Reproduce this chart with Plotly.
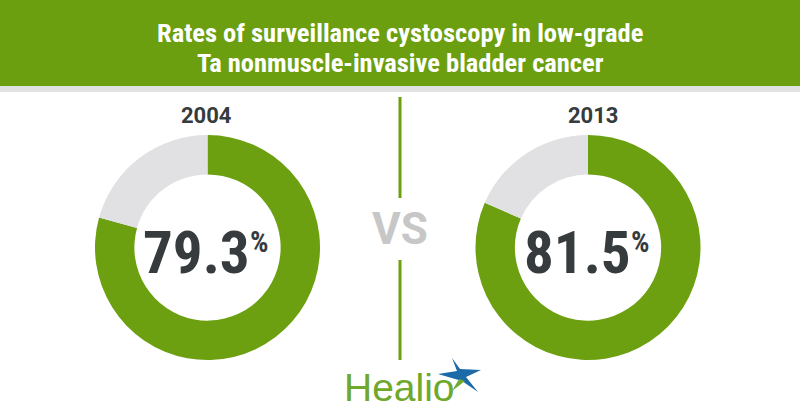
import plotly.graph_objects as go

# ---- data ----
years = ["2004", "2013"]
rates = [79.3, 81.5]          # % surveillance cystoscopy
title_lines = ["Rates of surveillance cystoscopy in low-grade",
               "Ta nonmuscle-invasive bladder cancer"]

W, H = 800, 420
GREEN = "#6ca011"
GRAY = "#e1e1e3"
DARK = "#363b3e"
COND = "Liberation Sans Narrow, Roboto Condensed, DejaVu Sans Condensed, Roboto"
REG = "Roboto, Liberation Sans, Arial"


def px(x):
    return x / W


def py(y):
    return 1 - y / H


fig = go.Figure()

# donut geometry (pixels): centres and outer radius
centres = [207.5, 588]
cy, R = 247.5, 112.5
for i, (yr, r) in enumerate(zip(years, rates)):
    cx = centres[i]
    fig.add_trace(go.Pie(
        values=[r, 100 - r],
        labels=["yes", "no"],
        marker=dict(colors=[GREEN, GRAY], line=dict(width=0)),
        hole=0.65, sort=False, direction="clockwise", rotation=0,
        textinfo="none", hoverinfo="skip", showlegend=False,
        domain=dict(x=[px(cx - R), px(cx + R)], y=[py(cy + R), py(cy - R)]),
    ))

shapes = []
# header band
shapes.append(dict(type="rect", xref="paper", yref="paper", x0=0, x1=1,
                   y0=py(86), y1=1, fillcolor="#6b9f10", line=dict(width=0), layer="below"))
shapes.append(dict(type="rect", xref="paper", yref="paper", x0=0, x1=1,
                   y0=py(92), y1=py(86), fillcolor="#e2e2e2", line=dict(width=0), layer="below"))
# divider lines
for y0, y1 in [(97, 198), (260, 360)]:
    shapes.append(dict(type="line", xref="paper", yref="paper", x0=px(400), x1=px(400),
                       y0=py(y0), y1=py(y1), line=dict(color=GREEN, width=3)))


def path(pts):
    return "M " + " L ".join(f"{px(x):.5f},{py(y):.5f}" for x, y in pts) + " Z"


# Healio star (logo decoration)
blue_pts = [(452, 358), (460, 369), (481, 370), (466, 377), (478, 392),
            (462, 381), (438, 374), (457, 371)]
shapes.append(dict(type="path", xref="paper", yref="paper", path=path(blue_pts),
                   fillcolor="#1c6aa8", line=dict(width=0)))
shapes.append(dict(type="path", xref="paper", yref="paper",
                   path=path([(459, 379), (465, 381), (452, 391)]),
                   fillcolor="#72a92f", line=dict(width=0)))

ann = []
for k, t in enumerate(title_lines):
    ann.append(dict(text=t, x=0.5, y=py(33 + 29 * k), xref="paper", yref="paper",
                    showarrow=False, xanchor="center", yanchor="middle",
                    font=dict(family=COND, size=26.5, color="white", weight="bold")))

year_x = [207, 593]
num_x = [196, 577]
for i, (yr, r) in enumerate(zip(years, rates)):
    ann.append(dict(text=f"<b>{yr}</b>", x=px(year_x[i]), y=py(115.5), xref="paper", yref="paper",
                    showarrow=False, xanchor="center", yanchor="middle",
                    font=dict(family=REG, size=22, color=DARK)))
    ann.append(dict(text=f"<b>{r:.1f}</b>", x=px(num_x[i]), y=py(252), xref="paper", yref="paper",
                    showarrow=False, xanchor="center", yanchor="middle",
                    font=dict(family=COND, size=59, color=DARK)))
    ann.append(dict(text="<b>%</b>", x=px(num_x[i] + 52), y=py(242), xref="paper", yref="paper",
                    showarrow=False, xanchor="left", yanchor="middle",
                    font=dict(family=COND, size=29, color=DARK)))

ann.append(dict(text="<b>VS</b>", x=px(400), y=py(229), xref="paper", yref="paper",
                showarrow=False, xanchor="center", yanchor="middle",
                font=dict(family="Roboto, Liberation Sans", size=44, color="#c7c7c7")))
ann.append(dict(text="Healio", x=px(342), y=py(387), xref="paper", yref="paper",
                showarrow=False, xanchor="left", yanchor="middle",
                font=dict(family="Liberation Sans, Arial", size=39, color="#6ea82c")))

fig.update_layout(width=W, height=H, margin=dict(l=0, r=0, t=0, b=0),
                  paper_bgcolor="white", plot_bgcolor="white",
                  shapes=shapes, annotations=ann)
fig.write_html("out.html", config={"displayModeBar": False},
               post_script="document.body.style.margin='0';document.body.style.overflow='hidden';")
